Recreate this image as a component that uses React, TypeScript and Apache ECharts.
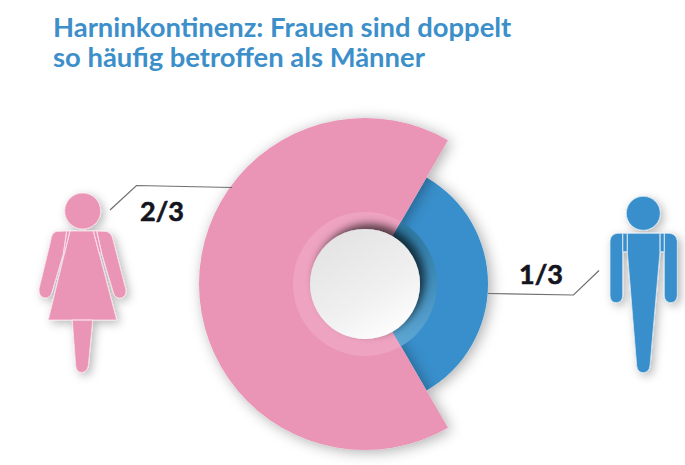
import React, { useEffect, useRef } from "react";
import * as echarts from "echarts";

const titleText = "Harninkontinenz: Frauen sind doppelt\nso häufig betroffen als Männer";
const categories = ["Frauen", "Männer"];
const shares = [2, 1];
const shareLabels = ["2/3", "1/3"];

const PINK = "#ea94b6";
const BLUE = "#378fcb";
const TITLE = "#3c8fc9";
const LINE = "#6f7073";
const INK = "#14141f";

const womanPath =
  "M66.7 231 L56 231.5 Q51.5 233 50.5 241.7 L39 289 Q38.5 297 45 298 Q50.5 298 52 292 L63.5 253 Z " +
  "M66.7 231 L70 231 L64.6 253 L63.5 253 Z " +
  "M70 231 L93.3 231 L116.7 320 L48.3 320 Z " +
  "M93.3 231 L96.7 231 L101.7 253.3 L99.2 253.3 Z " +
  "M96.7 231 L106.7 231.5 Q112 233 113.5 241.7 L126 290 Q126.5 297 120 298.3 Q115 298 113.5 293 L101.7 253.3 Z " +
  "M72.3 320 L92.7 320 L88.3 366 Q87 372 81.7 372.5 Q76.5 372 75.7 366 Z " +
  "M100.7 211 A18 18 0 1 1 64.7 211 A18 18 0 1 1 100.7 211 Z";
const manPath =
  "M622.7 233.3 L617 233.3 Q610.5 234.5 610 241 L610 296 Q610.5 302.5 616.3 302.7 Q622.2 302.5 622.7 296 Z " +
  "M622.7 233.3 L627.3 233.3 L627.3 251.7 L622.7 251.7 Z " +
  "M627.3 233.3 L660 233.3 L660 251.7 L650 366 Q649 372.5 643.3 372.7 Q637.5 372.5 636.7 366 L627.3 251.7 Z " +
  "M660 233.3 L664.3 233.3 L664.3 251.7 L660 251.7 Z " +
  "M664.3 233.3 L670 233.3 Q676.5 234.5 677.3 241 L677.3 296 Q676.5 302.5 670.7 302.7 Q665 302.5 664.3 296 Z " +
  "M660.3 213.3 A17 17 0 1 1 626.3 213.3 A17 17 0 1 1 660.3 213.3 Z";

echarts.graphic.registerShape("woman", echarts.graphic.extendPath(womanPath, {}));
echarts.graphic.registerShape("man", echarts.graphic.extendPath(manPath, {}));

const cx = 365;
const cy = 284;

function piePart(name: string, radius: number[], colors: (string | object)[], shadow: boolean) {
  return {
    type: "pie",
    name,
    center: [cx, cy],
    radius,
    startAngle: 300,
    clockwise: true,
    silent: true,
    label: { show: false },
    labelLine: { show: false },
    data: categories.map((c, i) => ({
      name: c,
      value: shares[i],
      itemStyle: {
        color: colors[i],
        borderWidth: 0,
        ...(shadow && colors[i] !== "transparent"
          ? { shadowBlur: 14, shadowColor: "rgba(0,0,0,0.32)", shadowOffsetX: 3, shadowOffsetY: 2 }
          : {}),
      },
    })),
  };
}

function figureStyle(fill: string, stroke: string) {
  return {
    fill,
    stroke,
    lineWidth: 0.8,
    shadowBlur: 10,
    shadowColor: "rgba(0,0,0,0.28)",
    shadowOffsetX: 3,
    shadowOffsetY: 3,
  };
}

export default function App() {
  const ref = useRef<HTMLDivElement>(null);
  useEffect(() => {
    document.body.style.margin = "0";
    const chart = echarts.init(ref.current!, undefined, { renderer: "svg" });
    chart.setOption({
      animation: false,
      backgroundColor: "#ffffff",
      title: {
        text: titleText,
        left: 48,
        top: 6,
        textStyle: {
          color: TITLE,
          fontFamily: "Lato",
          fontWeight: "bold",
          fontSize: 27.4,
          lineHeight: 30,
        },
      },
      series: [
        piePart("Männer", [55, 123], ["transparent", BLUE], true),
        piePart("Frauen", [55, 166], [PINK, "transparent"], true),
        piePart("Ring", [55, 72], [
          "#eea3c0",
          {
            type: "linear",
            x: 0,
            y: 0,
            x2: 0,
            y2: 1,
            colorStops: [
              { offset: 0, color: "#2c779f" },
              { offset: 0.45, color: "#3f8cba" },
              { offset: 1, color: "#5ea7d5" },
            ],
          },
        ], false),
      ],
      graphic: [
        {
          type: "circle",
          z: 100,
          shape: { cx, cy, r: 55 },
          style: {
            fill: {
              type: "linear",
              x: 0.2,
              y: 0,
              x2: 0.8,
              y2: 1,
              colorStops: [
                { offset: 0, color: "#e2e2e2" },
                { offset: 0.6, color: "#f0f0f0" },
                { offset: 1, color: "#ffffff" },
              ],
            },
            shadowBlur: 9,
            shadowColor: "rgba(0,0,0,0.65)",
            shadowOffsetX: 5,
            shadowOffsetY: -5,
          },
        },
        { type: "woman", z: 100, x: 0, y: 0, style: figureStyle(PINK, "#fbe3ec") },
        { type: "man", z: 100, x: 0, y: 0, style: figureStyle(BLUE, "#d8e9f5") },
        {
          type: "polyline",
          z: 90,
          shape: { points: [[110, 210], [136.5, 185.5], [232, 187.5]] },
          style: { stroke: LINE, lineWidth: 1.2, fill: "none" },
        },
        {
          type: "polyline",
          z: 90,
          shape: { points: [[488, 293.5], [573.5, 295], [599, 270.5]] },
          style: { stroke: LINE, lineWidth: 1.2, fill: "none" },
        },
        {
          type: "text",
          z: 100,
          style: {
            x: 162,
            y: 210,
            text: shareLabels[0],
            align: "center",
            verticalAlign: "middle",
            fill: INK,
            stroke: INK,
            lineWidth: 0.6,
            font: "bold 27px Lato",
          },
        },
        {
          type: "text",
          z: 100,
          style: {
            x: 541,
            y: 273,
            text: shareLabels[1],
            align: "center",
            verticalAlign: "middle",
            fill: INK,
            stroke: INK,
            lineWidth: 0.6,
            font: "bold 27px Lato",
          },
        },
      ],
    });
    return () => chart.dispose();
  }, []);
  return <div ref={ref} style={{ width: 685, height: 465 }} />;
}
